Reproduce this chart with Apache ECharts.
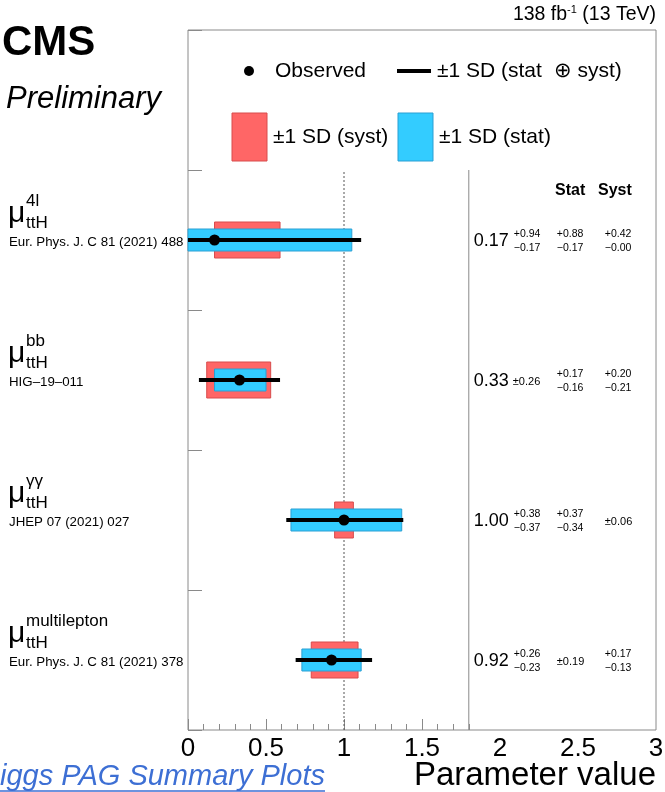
<!DOCTYPE html>
<html><head><meta charset="utf-8">
<script src="https://cdn.jsdelivr.net/npm/echarts@6/dist/echarts.min.js"></script>
<style>html,body{margin:0;padding:0;background:#fff}#c{width:665px;height:792px}</style>
</head><body><div id="c"></div>
<script>
// ---- data ----
const categories = ['4l', 'bb', 'γγ', 'multilepton'];
const references = ['Eur. Phys. J. C 81 (2021) 488', 'HIG–19–011', 'JHEP 07 (2021) 027', 'Eur. Phys. J. C 81 (2021) 378'];
const observed = [0.17, 0.33, 1.00, 0.92];
const totalUp = [0.94, 0.26, 0.38, 0.26];
const totalDown = [0.17, 0.26, 0.37, 0.23];
const statUp = [0.88, 0.17, 0.37, 0.19];
const statDown = [0.17, 0.16, 0.34, 0.19];
const systUp = [0.42, 0.20, 0.06, 0.17];
const systDown = [0.00, 0.21, 0.06, 0.13];
const xTicks = [0, 0.5, 1, 1.5, 2, 2.5, 3];
const smReference = 1;     // dashed SM line
const panelSplit = 1.8;    // start of the text panel

// ---- layout / style ----
const FONT = "'Liberation Sans', Arial, Helvetica, sans-serif";
const GL = 188, GR = 9, GT = 30, GB = 62;
const W = 665, H = 792;
const xMin = xTicks[0], xMax = xTicks[xTicks.length - 1];
const pxPerUnit = (W - GL - GR) / (xMax - xMin);
const nRows = categories.length;
const yMaxAxis = nRows + 1;
const RED = '#ff6666', RED_EDGE = '#d84c4c', BLUE = '#33ccff', BLUE_EDGE = '#2b9fd3';
const GRAY = '#8a8a8a';

function f2(v) { return v.toFixed(2); }
function rowY(i) { return nRows - i - 0.5; }

const rowData = categories.map((c, i) => [
  i, observed[i],
  observed[i] - totalDown[i], observed[i] + totalUp[i],
  observed[i] - statDown[i], observed[i] + statUp[i],
  observed[i] - systDown[i], observed[i] + systUp[i]
]);

function txt(text, x, y, size, opts) {
  return {
    type: 'text',
    style: Object.assign({
      text: text, x: x, y: y, fill: '#000', fontSize: size, fontFamily: FONT,
      align: 'left', verticalAlign: 'middle'
    }, opts || {})
  };
}

function renderRow(params, api) {
  const i = api.value(0);
  const yv = rowY(i);
  const c = api.coord([api.value(1), yv]);
  const t0 = api.coord([api.value(2), yv]), t1 = api.coord([api.value(3), yv]);
  const s0 = api.coord([api.value(4), yv]), s1 = api.coord([api.value(5), yv]);
  const y0 = api.coord([api.value(6), yv]), y1 = api.coord([api.value(7), yv]);
  const cy = c[1];
  const children = [
    { type: 'rect', shape: { x: y0[0], y: cy - 18, width: y1[0] - y0[0], height: 36 },
      style: { fill: RED, stroke: RED_EDGE, lineWidth: 1 } },
    { type: 'rect', shape: { x: s0[0], y: cy - 11, width: s1[0] - s0[0], height: 22 },
      style: { fill: BLUE, stroke: BLUE_EDGE, lineWidth: 1 } },
    { type: 'line', shape: { x1: t0[0], y1: cy, x2: t1[0], y2: cy },
      style: { stroke: '#000', lineWidth: 4 } },
    { type: 'circle', shape: { cx: c[0], cy: cy, r: 5.5 }, style: { fill: '#000' } }
  ];
  // left labels
  const lx = api.coord([xMin, yv])[0];
  children.push(txt('μ', lx - 180, cy - 26, 30));
  children.push(txt(categories[i], lx - 162, cy - 39, 17));
  children.push(txt('ttH', lx - 162, cy - 17, 17));
  children.push(txt(references[i], lx - 179, cy + 2, 13.3));
  // right panel
  const px = api.coord([panelSplit, yv])[0];
  children.push(txt(f2(observed[i]), px + 5, cy + 1, 18));
  const small = 10.5;
  function pm(up, dn, x, symOffset) {
    if (up === dn) {
      children.push(txt('±' + f2(up), x + (symOffset || 0), cy + 2, small + 0.5));
    } else {
      children.push(txt('+' + f2(up), x, cy - 6, small));
      children.push(txt('−' + f2(dn), x, cy + 8, small));
    }
  }
  pm(totalUp[i], totalDown[i], px + 45, -1);
  pm(statUp[i], statDown[i], px + 88, 0);
  pm(systUp[i], systDown[i], px + 136, 0);
  return { type: 'group', children: children };
}

function renderGuide(params, api) {
  const x = api.value(0);
  const p0 = api.coord([x, 0]), p1 = api.coord([x, nRows]);
  return { type: 'line', shape: { x1: p0[0], y1: p0[1], x2: p1[0], y2: p1[1] },
    style: api.value(1) ? { stroke: '#555', lineWidth: 1, lineDash: [2, 2] } : { stroke: GRAY, lineWidth: 1 } };
}

const chart = echarts.init(document.getElementById('c'), null, { renderer: 'canvas' });

const legendY1 = 71, legendY2 = 137;
const gridBase = { top: GT, bottom: GB, containLabel: false, outerBoundsMode: 'none' };
const option = {
  backgroundColor: '#fff',
  animation: false,
  grid: [
    Object.assign({ left: GL, right: GR, show: true, borderColor: GRAY, borderWidth: 1, backgroundColor: 'transparent' }, gridBase),
    Object.assign({ left: GL, width: pxPerUnit * panelSplit }, gridBase),
    Object.assign({ left: GL, width: pxPerUnit * 1.5 }, gridBase)
  ],
  xAxis: [
    { type: 'value', gridIndex: 0, min: xMin, max: xMax, interval: 0.5,
      axisLine: { show: false }, axisTick: { show: false }, splitLine: { show: false },
      axisLabel: { fontSize: 26, fontFamily: FONT, color: '#000', margin: 6,
        formatter: v => String(xTicks.find(t => Math.abs(t - v) < 1e-9) ?? v) } },
    { type: 'value', gridIndex: 1, min: 0, max: panelSplit, interval: 0.1,
      axisLine: { show: false }, splitLine: { show: false }, axisLabel: { show: false },
      axisTick: { show: true, inside: true, length: 6, lineStyle: { color: GRAY, width: 1 } } },
    { type: 'value', gridIndex: 2, min: 0, max: 1.5, interval: 0.5,
      axisLine: { show: false }, splitLine: { show: false }, axisLabel: { show: false },
      axisTick: { show: true, inside: true, length: 11, lineStyle: { color: GRAY, width: 1 } } }
  ],
  yAxis: [
    { type: 'value', gridIndex: 0, min: 0, max: yMaxAxis, interval: 1,
      axisLine: { show: false }, splitLine: { show: false }, axisLabel: { show: false },
      axisTick: { show: true, inside: true, length: 14, lineStyle: { color: GRAY, width: 1 } } },
    { type: 'value', gridIndex: 1, min: 0, max: 1, show: false },
    { type: 'value', gridIndex: 2, min: 0, max: 1, show: false }
  ],
  series: [
    { type: 'custom', name: 'guides', xAxisIndex: 0, yAxisIndex: 0, z: 1, silent: true,
      renderItem: renderGuide, data: [[smReference, 1], [panelSplit, 0]] },
    { type: 'custom', name: 'measurements', xAxisIndex: 0, yAxisIndex: 0, z: 3, silent: true,
      renderItem: renderRow, data: rowData, encode: { x: [1, 2, 3, 4, 5, 6, 7] } }
  ],
  graphic: [
    { type: 'text', left: 2, top: 22, style: { text: 'CMS', fontSize: 42, fontWeight: 'bold', fontFamily: FONT, fill: '#000' } },
    { type: 'text', left: 6, top: 84, style: { text: 'Preliminary', fontSize: 31, fontStyle: 'italic', fontFamily: FONT, fill: '#000' } },
    { type: 'text', right: W - 656, top: 4, style: {
        text: '{a|138 fb}{s|-1}{a| (13 TeV)}', fontFamily: FONT, fill: '#000',
        rich: { a: { fontSize: 19.5, lineHeight: 22, fontFamily: FONT }, s: { fontSize: 11, lineHeight: 12, verticalAlign: 'top', fontFamily: FONT } } } },
    // legend
    { type: 'circle', shape: { cx: 249, cy: legendY1, r: 5 }, style: { fill: '#000' } },
    { type: 'text', x: 275, y: legendY1, style: { text: 'Observed', fontSize: 21, fontFamily: FONT, fill: '#000', verticalAlign: 'middle' } },
    { type: 'line', shape: { x1: 397, y1: legendY1, x2: 431, y2: legendY1 }, style: { stroke: '#000', lineWidth: 4 } },
    { type: 'text', x: 437, y: legendY1, style: { text: '±1 SD (stat  ⊕ syst)', fontSize: 21, fontFamily: FONT, fill: '#000', verticalAlign: 'middle' } },
    { type: 'rect', shape: { x: 232, y: 113, width: 35, height: 48 }, style: { fill: RED, stroke: RED_EDGE, lineWidth: 1 } },
    { type: 'text', x: 273, y: legendY2, style: { text: '±1 SD (syst)', fontSize: 21, fontFamily: FONT, fill: '#000', verticalAlign: 'middle' } },
    { type: 'rect', shape: { x: 398, y: 113, width: 35, height: 48 }, style: { fill: BLUE, stroke: BLUE_EDGE, lineWidth: 1 } },
    { type: 'text', x: 439, y: legendY2, style: { text: '±1 SD (stat)', fontSize: 21, fontFamily: FONT, fill: '#000', verticalAlign: 'middle' } },
    // column headers
    { type: 'text', x: 555, y: 191, style: { text: 'Stat', fontSize: 16, fontWeight: 'bold', fontFamily: FONT, fill: '#000', verticalAlign: 'middle' } },
    { type: 'text', x: 598, y: 191, style: { text: 'Syst', fontSize: 16, fontWeight: 'bold', fontFamily: FONT, fill: '#000', verticalAlign: 'middle' } },
    // axis title
    { type: 'text', x: 656, y: 776, style: { text: 'Parameter value', fontSize: 33, fontFamily: FONT, fill: '#000', align: 'right', verticalAlign: 'middle' } },
    // link
    { type: 'text', x: 325, y: 777, style: { text: 'Higgs PAG Summary Plots', fontSize: 29, fontStyle: 'italic', fontFamily: FONT, fill: '#3d6fd4', align: 'right', verticalAlign: 'middle' } },
    { type: 'line', shape: { x1: 0, y1: 791, x2: 325, y2: 791 }, style: { stroke: '#3d6fd4', lineWidth: 1.5 } }
  ]
};
chart.setOption(option);
</script>
</body></html>
